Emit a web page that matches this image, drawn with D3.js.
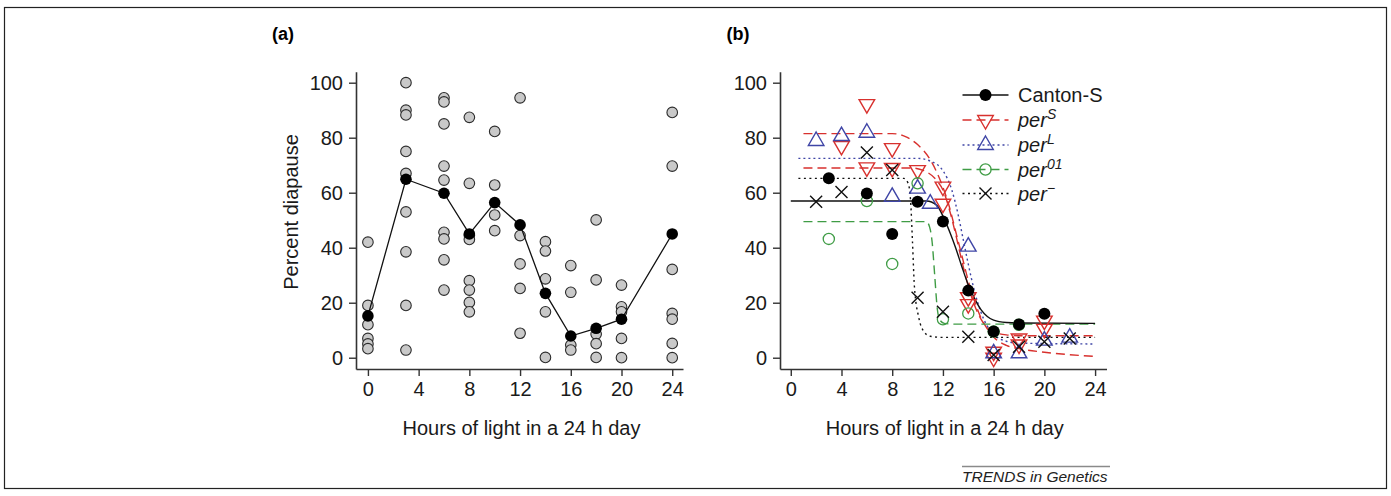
<!DOCTYPE html>
<html><head><meta charset="utf-8">
<script src="https://cdn.jsdelivr.net/npm/d3@7"></script>
<style>
html,body{margin:0;padding:0;background:#fff;}
svg{display:block;font-family:"Liberation Sans",Arial,Helvetica,sans-serif;}
</style></head><body>
<svg id="chart" width="1391" height="496"></svg>
<script>
// ---------- data ----------
const xTicks = [0, 4, 8, 12, 16, 20, 24];
const yTicks = [0, 20, 40, 60, 80, 100];
const xTitle = "Hours of light in a 24 h day";
const yTitle = "Percent diapause";

// Panel (a)
const hoursA = [0, 3, 6, 8, 10, 12, 14, 16, 18, 20, 24];
const replicatesA = [
  [42, 19, 12, 7, 5, 3.3],
  [100, 90, 88.3, 75, 67, 53, 38.5, 19, 2.8],
  [94.5, 93, 85, 69.7, 64.6, 45.6, 43.2, 35.6, 24.6],
  [87.4, 63.4, 44.5, 43, 28, 24.6, 20.1, 16.7],
  [82.3, 62.8, 51.9, 46.2],
  [94.5, 44.4, 34.1, 25.2, 8.9],
  [42.2, 38.8, 28.7, 16.7, 0.1],
  [33.5, 23.8, 4.6, 2.8],
  [50.1, 28.3, 8.6, 5.1, 0.1],
  [26.4, 18.5, 16.7, 7, 0],
  [89.2, 69.7, 32.1, 16.1, 14, 5.2, 0]
];
const meansA = [15.2, 64.9, 59.8, 45, 56.4, 48.3, 23.4, 7.9, 10.7, 14, 45];

// Panel (b) observed points
const cantonS = [[3, 65.3], [6, 59.7], [8, 45], [10, 56.7], [12, 49.5], [14, 24.4], [16, 9.5], [18, 12.1], [20, 16]];
const perS = [[4, 77], [6, 92.2], [6, 69.2], [8, 76.2], [8, 69], [10, 68.2], [12, 62.2], [12, 56],
              [14, 22], [14, 19.5], [16, 2.2], [16, 0], [18, 7], [18, 4.8], [20, 13.5], [20, 10.5]];
const perL = [[2, 78.8], [4, 80.6], [6, 81.8], [8, 58.5], [10, 61.5], [11, 56], [14, 40.4], [16, 1.6], [18, 1.6], [20, 6.2], [22, 7.3]];
const per01 = [[3, 43.2], [6, 57], [8, 34.1], [10, 63.4], [12, 14], [14, 16.1], [16, 9.5], [18, 12]];
const perMinus = [[2, 56.7], [4, 60.3], [6, 74.6], [8, 68.3], [10, 21.8], [12, 16.7], [14, 7.6], [16, 1], [18, 4], [20, 5.8], [22, 7]];

// Panel (b) fitted curves
const cantonCurve = [[0, 57], [10.7, 57], [11.5, 55.5], [12.1, 50.5], [12.6, 45], [13, 40], [13.5, 33], [14, 26.5], [14.5, 21.5], [15, 17.5], [15.5, 15], [16, 13.7], [17, 12.8], [18, 12.6], [24, 12.5]];
const perSCurveHigh = [[1, 81.5], [8, 81.5], [9, 80.5], [10, 77.5], [11, 72], [12, 62], [12.5, 55], [13, 46], [13.5, 37], [14, 28], [14.5, 20.5], [15, 14.5], [15.5, 10.5], [16, 7.5], [17, 4.5], [18, 3.3], [20, 2], [22, 1.1], [24, 0.5]];
const perSCurveLow = [[1, 69], [9.5, 69], [10.5, 68], [11.5, 64.5], [12, 61], [12.5, 54], [13, 45], [13.5, 35], [14, 26], [14.5, 19], [15, 14], [15.5, 11], [16, 9.5], [17, 8.3], [18, 8], [24, 8]];
const perLCurve = [[0.6, 72.5], [10, 72.5], [11, 71.5], [12, 68], [12.7, 61], [13.2, 52], [13.6, 43], [14, 34], [14.5, 24], [15, 16.5], [15.5, 11.5], [16, 8.5], [17, 6], [18, 5.3], [24, 5]];
const per01Curve = [[1, 49.5], [10.7, 49.5], [10.95, 47.5], [11.15, 42], [11.35, 30], [11.55, 18], [11.75, 13.8], [12.1, 12.5], [13, 12.2], [24, 12.2]];
const perMinusCurve = [[0.6, 65.2], [8.9, 65.2], [9.25, 63.5], [9.45, 57], [9.6, 42], [9.75, 26], [10.1, 14.5], [10.5, 9.5], [11, 7.8], [12, 7.4], [24, 7.4]];

const legendNames = ["Canton-S", "per", "per", "per", "per"];
const legendSups = ["", "S", "L", "01", "\u2212"];

// ---------- drawing ----------
const svg = d3.select("#chart");
const RED = "#d8312e", BLUE = "#3f45a6", GREEN = "#3f9c45", AX = "#333";

svg.append("rect").attr("x", 4.5).attr("y", 7.5).attr("width", 1382).attr("height", 481)
  .attr("fill", "#fff").attr("stroke", "#222").attr("stroke-width", 1.2);

const yScale = d3.scaleLinear().domain([-4.1, 104]).range([369, 71.7]);

function drawAxes(g, x, showYTitle, titleX) {
  const ax = g.append("g").attr("transform", "translate(0,369)")
    .call(d3.axisBottom(x).tickValues(xTicks).tickSize(7).tickSizeOuter(0).tickPadding(6));
  const ay = g.append("g").attr("transform", `translate(${x.range()[0]},0)`)
    .call(d3.axisLeft(yScale).tickValues(yTicks).tickSize(7).tickSizeOuter(0).tickPadding(6));
  [ax, ay].forEach(a => {
    a.select(".domain").attr("stroke", AX).attr("stroke-width", 1.6);
    a.selectAll(".tick line").attr("stroke", AX).attr("stroke-width", 1.4);
    a.selectAll(".tick text").attr("font-size", 20).attr("fill", "#1a1a1a")
      .attr("font-family", "Liberation Sans, Arial, sans-serif");
  });
  g.append("text").attr("x", titleX).attr("y", 435).attr("text-anchor", "middle")
    .attr("font-size", 20).attr("fill", "#1a1a1a").text(xTitle);
  if (showYTitle) {
    g.append("text").attr("transform", "translate(298,212) rotate(-90)")
      .attr("text-anchor", "middle").attr("font-size", 20).attr("fill", "#1a1a1a").text(yTitle);
  }
}

// Panel (a)
const xA = d3.scaleLinear().domain([-0.94, 24.85]).range([356, 683]);
const gA = svg.append("g");
drawAxes(gA, xA, true, 521.5);
gA.append("text").attr("x", 283).attr("y", 40).attr("text-anchor", "middle")
  .attr("font-size", 18).attr("font-weight", "bold").text("(a)");

const ptsA = [];
hoursA.forEach((h, i) => replicatesA[i].forEach(v => ptsA.push([h, v])));
gA.append("g").selectAll("circle").data(ptsA).join("circle")
  .attr("cx", d => xA(d[0])).attr("cy", d => yScale(d[1])).attr("r", 5.3)
  .attr("fill", "#c9c9c9").attr("stroke", "#2b2b2b").attr("stroke-width", 1.1);
const meanPts = hoursA.map((h, i) => [h, meansA[i]]);
gA.append("path").datum(meanPts)
  .attr("d", d3.line().x(d => xA(d[0])).y(d => yScale(d[1])))
  .attr("fill", "none").attr("stroke", "#111").attr("stroke-width", 1.3);
gA.append("g").selectAll("circle").data(meanPts).join("circle")
  .attr("cx", d => xA(d[0])).attr("cy", d => yScale(d[1])).attr("r", 5.8).attr("fill", "#000");

// Panel (b)
const xB = d3.scaleLinear().domain([-0.85, 24.9]).range([780, 1106.5]);
const gB = svg.append("g");
drawAxes(gB, xB, false, 944.7);
gB.append("text").attr("x", 738).attr("y", 40).attr("text-anchor", "middle")
  .attr("font-size", 18).attr("font-weight", "bold").text("(b)");

const lineB = d3.line().x(d => xB(d[0])).y(d => yScale(d[1])).curve(d3.curveMonotoneX);
const curves = [
  {d: perSCurveHigh, c: RED, dash: "9,5"},
  {d: perSCurveLow, c: RED, dash: "9,5"},
  {d: perLCurve, c: BLUE, dash: "2,3"},
  {d: per01Curve, c: GREEN, dash: "9,5"},
  {d: perMinusCurve, c: "#111", dash: "2,3.5"},
  {d: cantonCurve, c: "#111", dash: null}
];
curves.forEach(k => {
  gB.append("path").datum(k.d).attr("d", lineB).attr("fill", "none")
    .attr("stroke", k.c).attr("stroke-width", 1.4).attr("stroke-dasharray", k.dash);
});

const triUp = d3.symbol().type(d3.symbolTriangle).size(105)();
function drawMarker(sel, type) {
  if (type === "filled") {
    sel.append("circle").attr("r", 6).attr("fill", "#000");
  } else if (type === "down") {
    sel.append("path").attr("d", triUp).attr("transform", "rotate(180)")
      .attr("fill", "none").attr("stroke", RED).attr("stroke-width", 1.4);
  } else if (type === "up") {
    sel.append("path").attr("d", triUp)
      .attr("fill", "none").attr("stroke", BLUE).attr("stroke-width", 1.4);
  } else if (type === "open") {
    sel.append("circle").attr("r", 5.6).attr("fill", "none").attr("stroke", GREEN).attr("stroke-width", 1.3);
  } else if (type === "x") {
    sel.append("path").attr("d", "M-6,-6L6,6M-6,6L6,-6").attr("stroke", "#111").attr("stroke-width", 1.4);
  }
}
const series = [
  {d: perS, t: "down"},
  {d: perL, t: "up"},
  {d: per01, t: "open"},
  {d: perMinus, t: "x"},
  {d: cantonS, t: "filled"}
];
series.forEach(s => {
  gB.append("g").selectAll("g").data(s.d).join("g")
    .attr("transform", d => `translate(${xB(d[0])},${yScale(d[1])})`)
    .each(function () { drawMarker(d3.select(this), s.t); });
});

// Legend
const legStyles = [
  {t: "filled", c: "#111", dash: null},
  {t: "down", c: RED, dash: "9,5"},
  {t: "up", c: BLUE, dash: "2,3"},
  {t: "open", c: GREEN, dash: "9,5"},
  {t: "x", c: "#111", dash: "2,3.5"}
];
const legY = [95, 120, 145, 169.5, 193.5];
legendNames.forEach((name, i) => {
  const g = gB.append("g").attr("transform", `translate(0,${legY[i]})`);
  g.append("line").attr("x1", 962.5).attr("x2", 1008.5).attr("y1", 0).attr("y2", 0)
    .attr("stroke", legStyles[i].c).attr("stroke-width", 1.4).attr("stroke-dasharray", legStyles[i].dash);
  const m = g.append("g").attr("transform", "translate(985.5,0)");
  drawMarker(m, legStyles[i].t);
  const t = g.append("text").attr("x", 1018).attr("y", 7).attr("font-size", 20).attr("fill", "#1a1a1a");
  t.append("tspan").attr("font-style", i === 0 ? "normal" : "italic").text(name);
  if (legendSups[i]) {
    t.append("tspan").attr("font-style", "italic").attr("font-size", 14).attr("dy", -8).text(legendSups[i]);
  }
});

// Footer
svg.append("line").attr("x1", 962).attr("x2", 1110).attr("y1", 466.5).attr("y2", 466.5)
  .attr("stroke", "#8a8a8a").attr("stroke-width", 1.4);
svg.append("text").attr("x", 962).attr("y", 482).attr("font-size", 15.5).attr("font-style", "italic")
  .attr("fill", "#222").text("TRENDS in Genetics");
</script>
</body></html>
